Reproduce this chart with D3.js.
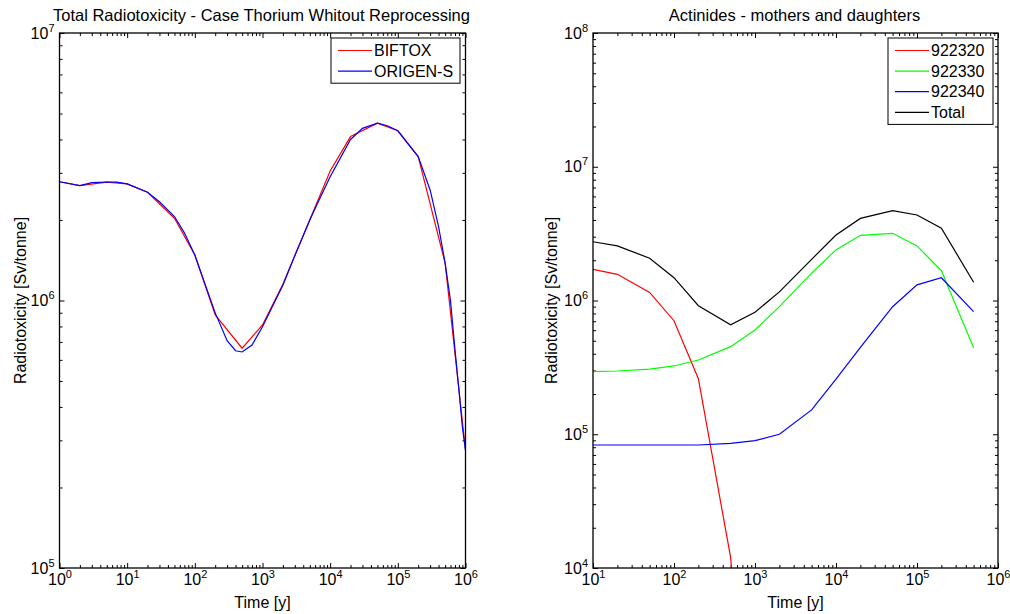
<!DOCTYPE html>
<html>
<head>
<meta charset="utf-8">
<script src="https://cdn.jsdelivr.net/npm/d3@7"></script>
<style>
    body { margin: 0; background: #fff; }
    svg text { font-family: "Liberation Sans", Arial, sans-serif; fill: #000; }
</style>
</head>
<body>
<svg id="chart" width="1010" height="614"></svg>
<script>
// Left panel - total radiotoxicity, two codes
const timeBiftox = [1, 2, 5, 10, 20, 50, 100, 200, 500, 1000, 2000, 10000, 20000, 50000, 100000, 200000, 500000, 1000000];
const biftox = [2.78e6, 2.69e6, 2.77e6, 2.73e6, 2.54e6, 2.03e6, 1.48e6, 8.83e5, 6.63e5, 8.1e5, 1.15e6, 3.05e6, 4.1e6, 4.6e6, 4.31e6, 3.45e6, 1.38e6, 2.76e5];

const timeOrigen = [1, 2, 3, 5, 7, 10, 20, 30, 50, 70, 100, 200, 300, 400, 500, 700, 1000, 2000, 3000, 5000, 7000,
    10000, 20000, 30000, 50000, 70000, 100000, 200000, 300000, 400000, 500000, 600000, 700000, 800000, 900000, 1000000];
const origen = [2.78e6, 2.69e6, 2.76e6, 2.77e6, 2.77e6, 2.73e6, 2.54e6, 2.34e6, 2.06e6, 1.79e6, 1.48e6, 8.99e5, 7.08e5, 6.49e5, 6.42e5, 6.82e5, 7.98e5, 1.14e6, 1.47e6, 2.0e6, 2.4e6,
    2.9e6, 4.0e6, 4.4e6, 4.6e6, 4.5e6, 4.31e6, 3.45e6, 2.59e6, 1.89e6, 1.38e6, 1.0e6, 6.53e5, 4.63e5, 3.35e5, 2.76e5];

// Right panel - actinides
const timeActinides = [10, 20, 50, 100, 200, 500, 1000, 2000, 5000, 10000, 20000, 50000, 100000, 200000, 500000];
const u232 = [1.71e6, 1.57e6, 1.15e6, 7.06e5, 2.6e5, 1.2e4, 80];
const u233 = [2.94e5, 2.97e5, 3.07e5, 3.24e5, 3.59e5, 4.52e5, 6.02e5, 8.99e5, 1.6e6, 2.39e6, 3.07e6, 3.18e6, 2.56e6, 1.67e6, 4.44e5];
const u234 = [8.31e4, 8.31e4, 8.31e4, 8.31e4, 8.31e4, 8.55e4, 8.95e4, 1.0e5, 1.52e5, 2.58e5, 4.47e5, 8.99e5, 1.31e6, 1.48e6, 8.25e5];
const total = [2.75e6, 2.56e6, 2.07e6, 1.48e6, 9.15e5, 6.59e5, 8.17e5, 1.16e6, 2.03e6, 3.09e6, 4.11e6, 4.69e6, 4.36e6, 3.47e6, 1.37e6];

const svg = d3.select("#chart");

const isPow10 = v => Math.abs(Math.log10(v) - Math.round(Math.log10(v))) < 1e-9;

// "10" with the exponent as superscript
function powerLabels(sel, shift) {
    sel.each(function (d) {
        const t = d3.select(this).text(null);
        t.append('tspan').text('10');
        t.append('tspan')
            .attr('dy', shift)
            .attr('font-size', '11px')
            .text(Math.round(Math.log10(d)));
    });
}

function drawPanel(p) {
    const x = d3.scaleLog().domain(p.xDomain).range([p.left, p.right]);
    const y = d3.scaleLog().domain(p.yDomain).range([p.bottom, p.top]);
    const g = svg.append('g');

    const xMajor = x.ticks().filter(isPow10);
    const xMinor = x.ticks().filter(v => !isPow10(v));
    const yMajor = y.ticks().filter(isPow10);
    const yMinor = y.ticks().filter(v => !isPow10(v));

    // ticks on all four sides, pointing inwards
    const sides = [
        { axis: d3.axisBottom, scale: x, pos: `translate(0,${p.bottom})`, major: xMajor, minor: xMinor, labels: true },
        { axis: d3.axisTop, scale: x, pos: `translate(0,${p.top})`, major: xMajor, minor: xMinor, labels: false },
        { axis: d3.axisLeft, scale: y, pos: `translate(${p.left},0)`, major: yMajor, minor: yMinor, labels: true },
        { axis: d3.axisRight, scale: y, pos: `translate(${p.right},0)`, major: yMajor, minor: yMinor, labels: false }
    ];

    sides.forEach(s => {
        g.append('g')
            .attr('transform', s.pos)
            .call(s.axis(s.scale).tickValues(s.minor).tickSize(-3).tickFormat(''))
            .call(a => a.select('.domain').remove());

        const major = g.append('g')
            .attr('transform', s.pos)
            .call(s.axis(s.scale).tickValues(s.major).tickSize(-5).tickPadding(s.axis === d3.axisBottom ? 6 : 5)
                .tickFormat(s.labels ? d => d : ''))
            .call(a => a.select('.domain').remove());

        major.selectAll('text').attr('font-size', '16px').attr('fill', '#000');
        if (s.labels) {
            const shift = s.axis === d3.axisBottom ? -7 : -7;
            major.selectAll('.tick text').call(powerLabels, shift);
        }
    });
    g.selectAll('.tick line').attr('stroke', '#000').attr('stroke-width', 1);

    // clip the curves to the plot box
    const clipId = 'clip-' + p.id;
    g.append('clipPath').attr('id', clipId)
        .append('rect')
        .attr('x', p.left).attr('y', p.top)
        .attr('width', p.right - p.left).attr('height', p.bottom - p.top);

    const line = d3.line()
        .x(d => x(d[0]))
        .y(d => y(d[1]));

    g.append('g')
        .attr('clip-path', `url(#${clipId})`)
        .selectAll('path.series')
        .data(p.series)
        .enter()
        .append('path')
        .attr('class', 'series')
        .attr('d', s => line(d3.zip(s.times, s.values)))
        .attr('fill', 'none')
        .attr('stroke', s => s.color)
        .attr('stroke-width', 1.2);

    // axes box
    g.append('rect')
        .attr('x', p.left).attr('y', p.top)
        .attr('width', p.right - p.left).attr('height', p.bottom - p.top)
        .attr('fill', 'none')
        .attr('stroke', '#000')
        .attr('stroke-width', 1.3);

    // title and labels
    g.append('text')
        .attr('x', (p.left + p.right) / 2 - 1)
        .attr('y', 21)
        .attr('text-anchor', 'middle')
        .attr('font-size', '16.5px')
        .text(p.title);

    g.append('text')
        .attr('x', (p.left + p.right) / 2)
        .attr('y', 608)
        .attr('text-anchor', 'middle')
        .attr('font-size', '16px')
        .text('Time [y]');

    g.append('text')
        .attr('transform', `translate(${p.yLabelX},${(p.top + p.bottom) / 2}) rotate(-90)`)
        .attr('text-anchor', 'middle')
        .attr('font-size', '16px')
        .text('Radiotoxicity [Sv/tonne]');

    // legend
    const lg = g.append('g').attr('transform', `translate(${p.legend.x},${p.legend.y})`);
    lg.append('rect')
        .attr('width', p.legend.w)
        .attr('height', p.series.length * 20.6 + 4)
        .attr('fill', '#fff')
        .attr('stroke', '#000')
        .attr('stroke-width', 1);

    const items = lg.selectAll('g.item')
        .data(p.series)
        .enter()
        .append('g')
        .attr('class', 'item')
        .attr('transform', (d, i) => `translate(0,${12.5 + i * 20.6})`);

    items.append('line')
        .attr('x1', 7).attr('x2', 41)
        .attr('stroke', d => d.color)
        .attr('stroke-width', 1.2);

    items.append('text')
        .attr('x', 43)
        .attr('dy', '0.36em')
        .attr('font-size', '16px')
        .text(d => d.name);
}

drawPanel({
    id: 'left',
    left: 59.5, right: 465.5, top: 33, bottom: 568,
    xDomain: [1, 1e6], yDomain: [1e5, 1e7],
    yLabelX: 26,
    title: 'Total Radiotoxicity - Case Thorium Whitout Reprocessing',
    legend: { x: 331, y: 38, w: 129 },
    series: [
        { name: 'BIFTOX', times: timeBiftox, values: biftox, color: '#ff0000' },
        { name: 'ORIGEN-S', times: timeOrigen, values: origen, color: '#0000ff' }
    ]
});

drawPanel({
    id: 'right',
    left: 593, right: 998, top: 33, bottom: 568,
    xDomain: [10, 1e6], yDomain: [1e4, 1e8],
    yLabelX: 557,
    title: 'Actinides - mothers and daughters',
    legend: { x: 888, y: 38, w: 105 },
    series: [
        { name: '922320', times: timeActinides, values: u232, color: '#ff0000' },
        { name: '922330', times: timeActinides, values: u233, color: '#00ff00' },
        { name: '922340', times: timeActinides, values: u234, color: '#0000ff' },
        { name: 'Total', times: timeActinides, values: total, color: '#000000' }
    ]
});
</script>
</body>
</html>
